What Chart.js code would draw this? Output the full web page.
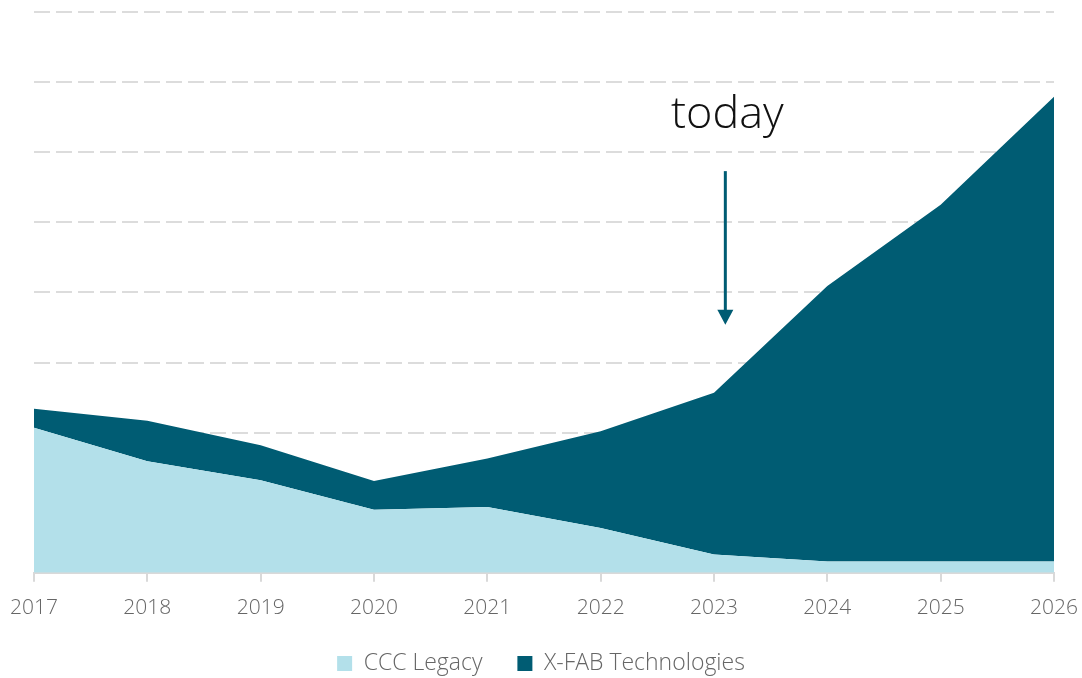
<!DOCTYPE html>
<html>
<head>
<meta charset="utf-8">
<style>
  html, body { margin: 0; padding: 0; background: #fff; }
  #wrap { width: 1082px; height: 678px; }
</style>
</head>
<body>
<div id="wrap">
    <canvas id="myChart"></canvas>
</div>

<script src="https://cdn.jsdelivr.net/npm/chart.js"></script>

<script>
    const years = ['2017', '2018', '2019', '2020', '2021', '2022', '2023', '2024', '2025', '2026'];
    const cccLegacy = [2.07, 1.59, 1.32, 0.90, 0.94, 0.64, 0.26, 0.16, 0.16, 0.16];
    const xfab = [0.27, 0.58, 0.50, 0.41, 0.69, 1.38, 2.31, 3.93, 5.09, 6.63];
    const todayLabel = 'today';

    // "today" text + arrow, positioned through the scales
    const todayArrow = {
        id: 'todayArrow',
        afterDatasetsDraw(chart) {
            const ctx = chart.ctx;
            const x = chart.scales.x.getPixelForValue(6.1);
            const y = chart.scales.y;
            ctx.save();
            ctx.fillStyle = '#111';
            ctx.font = '300 45px "Open Sans"';
            ctx.textAlign = 'center';
            ctx.textBaseline = 'alphabetic';
            ctx.fillText(todayLabel, x + 2, y.getPixelForValue(6.35));

            const top = y.getPixelForValue(5.73);
            const tip = y.getPixelForValue(3.54);
            ctx.strokeStyle = '#005c73';
            ctx.fillStyle = '#005c73';
            ctx.lineWidth = 3;
            ctx.beginPath();
            ctx.moveTo(x, top);
            ctx.lineTo(x, tip - 12);
            ctx.stroke();
            ctx.beginPath();
            ctx.moveTo(x - 8, tip - 15);
            ctx.lineTo(x + 8, tip - 15);
            ctx.lineTo(x, tip);
            ctx.closePath();
            ctx.fill();
            ctx.restore();
        }
    };

    const ctx = document.getElementById('myChart');

    new Chart(ctx, {
        type: 'line',
        data: {
            labels: years,
            datasets: [{
                label: 'CCC Legacy',
                data: cccLegacy,
                backgroundColor: '#b3e0ea',
                borderColor: '#b3e0ea',
                borderWidth: 0,
                pointRadius: 0,
                fill: 'origin'
            }, {
                label: 'X-FAB Technologies',
                data: xfab,
                backgroundColor: '#005c73',
                borderColor: '#005c73',
                borderWidth: 0,
                pointRadius: 0,
                fill: '-1'
            }]
        },
        plugins: [todayArrow],
        options: {
            responsive: true,
            maintainAspectRatio: false,
            animation: false,
            layout: { padding: { top: 12, left: 0, right: 0, bottom: -7 } },
            plugins: {
                legend: {
                    position: 'bottom',
                    labels: {
                        boxWidth: 15,
                        boxHeight: 15,
                        padding: 17,
                        color: '#666',
                        font: { family: '"Open Sans"', size: 23, weight: '300' },
                        // a bit more room between the two entries
                        generateLabels(chart) {
                            const items = Chart.defaults.plugins.legend.labels.generateLabels(chart);
                            items[0].text += '   ';
                            return items;
                        }
                    }
                },
                tooltip: { enabled: false }
            },
            scales: {
                x: {
                    offset: false,
                    afterFit(scale) {
                        scale.paddingLeft = 34;
                        scale.paddingRight = 28;
                    },
                    grid: {
                        drawOnChartArea: false,
                        color: '#d9d9d9',
                        lineWidth: 2,
                        tickLength: 9
                    },
                    border: { color: '#d9d9d9', width: 2 },
                    ticks: {
                        color: '#666',
                        padding: 14,
                        maxRotation: 0,
                        font: { family: '"Open Sans"', size: 21, weight: '300' }
                    }
                },
                y: {
                    stacked: true,
                    min: 0,
                    max: 8,
                    ticks: { display: false, stepSize: 1 },
                    border: { display: false, dash: [16, 6] },
                    grid: {
                        color: '#dcdcdc',
                        lineWidth: 2,
                        drawTicks: false
                    }
                }
            }
        }
    });
</script>
</body>
</html>
